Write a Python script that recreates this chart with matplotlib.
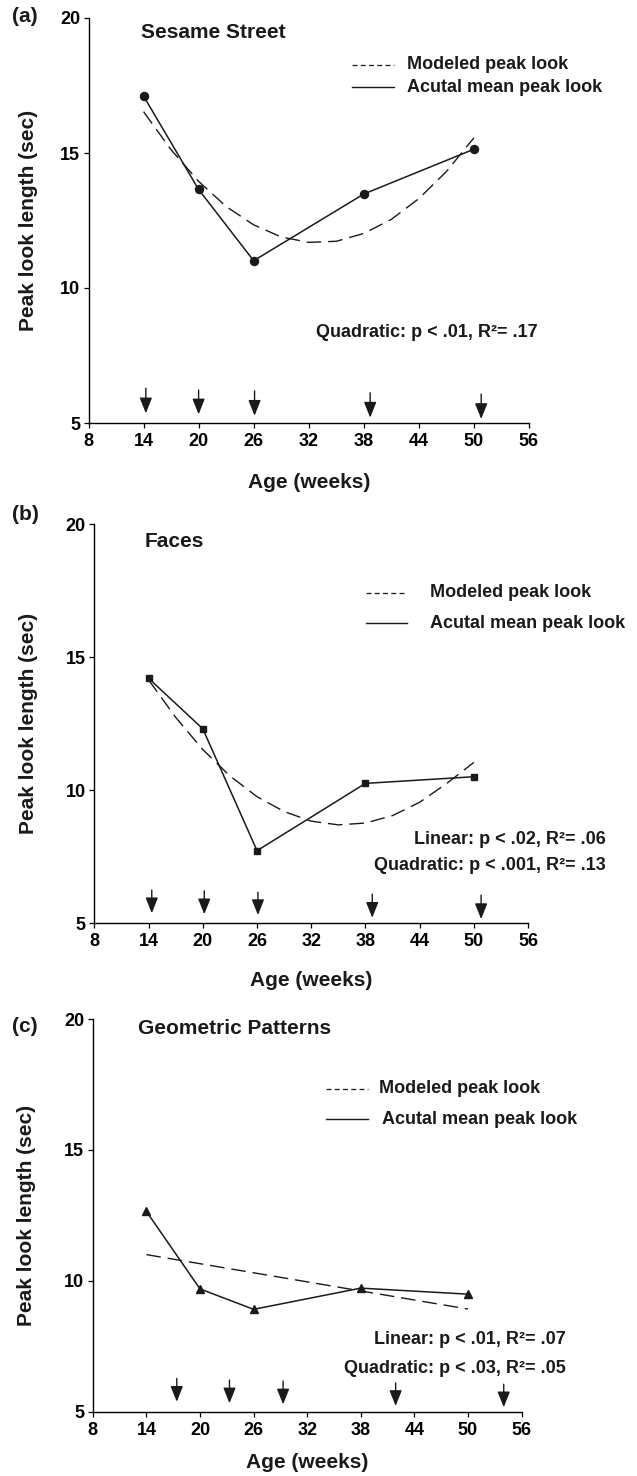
import matplotlib
matplotlib.use("Agg")
import matplotlib.pyplot as plt

plt.rcParams['font.family'] = ['Liberation Sans', 'DejaVu Sans']
plt.rcParams['font.weight'] = 'bold'

# ---------------- data ----------------
weeks = [14, 20, 26, 38, 50]
sesame_actual = [17.11, 13.65, 11.01, 13.48, 15.14]
faces_actual = [14.21, 12.31, 7.73, 10.26, 10.51]
geometric_actual = [12.65, 9.69, 8.91, 9.72, 9.49]

model_weeks = [14, 17, 20, 23, 26, 29, 32, 35, 38, 41, 44, 47, 50]
sesame_model = [16.53, 15.12, 13.95, 13.02, 12.34, 11.89, 11.69, 11.73, 12.02, 12.54, 13.31, 14.31, 15.56]
faces_model = [14.15, 12.74, 11.53, 10.54, 9.76, 9.20, 8.84, 8.70, 8.77, 9.05, 9.55, 10.26, 11.05]
geometric_model_weeks = [14, 50]
geometric_model = [11.00, 8.92]

sesame_arrows = [14.25, 20.0, 26.1, 38.7, 50.8]
faces_arrows = [14.35, 20.16, 26.1, 38.75, 50.8]
geometric_arrows = [17.4, 23.3, 29.3, 41.9, 54.0]

x_ticks = [8, 14, 20, 26, 32, 38, 44, 50, 56]
y_ticks = [5, 10, 15, 20]

titles = ["Sesame Street", "Faces", "Geometric Patterns"]
panel_labels = ["(a)", "(b)", "(c)"]
legend_labels = ["Modeled peak look", "Acutal mean peak look"]
stats = [["Quadratic: p < .01, R²= .17"],
         ["Linear: p < .02, R²= .06", "Quadratic: p < .001, R²= .13"],
         ["Linear: p < .01, R²= .07", "Quadratic: p < .03, R²= .05"]]

W, H = 637, 1476
fig = plt.figure(figsize=(W / 100, H / 100), dpi=100)


def px_axes(left, right, top, bottom):
    return fig.add_axes([left / W, 1 - bottom / H, (right - left) / W, (bottom - top) / H])


def style_axis(ax):
    ax.set_xlim(8, 56)
    ax.set_ylim(5, 20)
    ax.set_xticks(x_ticks)
    ax.set_yticks(y_ticks)
    for s in ['top', 'right']:
        ax.spines[s].set_visible(False)
    for s in ['left', 'bottom']:
        ax.spines[s].set_linewidth(1.0)
    ax.tick_params(direction='out', length=3.6, width=0.9, labelsize=13)
    ax.tick_params(axis='x', pad=3.5)
    ax.tick_params(axis='y', pad=2.5)
    for lab in ax.get_xticklabels() + ax.get_yticklabels():
        lab.set_fontweight('bold')


def arrows(ax, xs, tops, tips):
    for x, t0, t1 in zip(xs, tops, tips):
        ax.annotate('', xy=(x, t1), xytext=(x, t0),
                    arrowprops=dict(arrowstyle='-|>,head_length=0.95,head_width=0.38',
                                    color='#1a1a1a', lw=1.0, shrinkA=0, shrinkB=0,
                                    mutation_scale=10),
                    annotation_clip=False)


def legend(ax, x0, x1, xt_dash, xt_solid, y_dash, y_solid):
    ax.plot([x0, x1], [y_dash, y_dash], color='#1a1a1a', lw=0.9,
            linestyle=(0, (4, 2.6)), clip_on=False)
    ax.plot([x0, x1], [y_solid, y_solid], color='#1a1a1a', lw=1.0, clip_on=False)
    ax.text(xt_dash, y_dash, legend_labels[0], fontsize=13, fontweight='bold',
            va='center', ha='left', color='#1a1a1a')
    ax.text(xt_solid, y_solid, legend_labels[1], fontsize=13, fontweight='bold',
            va='center', ha='left', color='#1a1a1a')


dash = (0, (10.5, 5))
col = '#1a1a1a'

# ---------------- panel (a) ----------------
ax1 = px_axes(88.5, 528.9, 18, 423)
style_axis(ax1)
ax1.plot(model_weeks, sesame_model, color=col, lw=1.0, linestyle=dash)
ax1.plot(weeks, sesame_actual, color=col, lw=1.1, marker='o', markersize=5.8)
arrows(ax1, sesame_arrows, [6.29, 6.22, 6.19, 6.12, 6.07], [5.36, 5.32, 5.27, 5.20, 5.15])
legend(ax1, 36.67, 41.33, 42.67, 42.67, 18.26, 17.44)
ax1.text(13.7, 19.48, titles[0], fontsize=15, fontweight='bold', va='center', ha='left', color=col)
ax1.text(56.9, 8.37, stats[0][0], fontsize=13, fontweight='bold', va='center', ha='right', color=col)

# ---------------- panel (b) ----------------
ax2 = px_axes(94.4, 528.1, 524.3, 923.3)
style_axis(ax2)
ax2.plot(model_weeks, faces_model, color=col, lw=1.0, linestyle=dash)
ax2.plot(weeks, faces_actual, color=col, lw=1.1, marker='s', markersize=4.4)
arrows(ax2, faces_arrows, [6.25, 6.22, 6.17, 6.10, 6.06], [5.38, 5.34, 5.31, 5.21, 5.16])
legend(ax2, 38.08, 42.58, 45.15, 45.15, 17.43, 16.28)
ax2.text(13.54, 19.35, titles[1], fontsize=15, fontweight='bold', va='center', ha='left', color=col)
ax2.text(64.55, 8.16, stats[1][0], fontsize=13, fontweight='bold', va='center', ha='right', color=col)
ax2.text(64.55, 7.19, stats[1][1], fontsize=13, fontweight='bold', va='center', ha='right', color=col)

# ---------------- panel (c) ----------------
ax3 = px_axes(92.8, 521.6, 1019, 1411.7)
style_axis(ax3)
ax3.plot(geometric_model_weeks, geometric_model, color=col, lw=1.0, linestyle=dash)
ax3.plot(weeks, geometric_actual, color=col, lw=1.1, marker='^', markersize=5.6)
arrows(ax3, geometric_arrows, [6.27, 6.21, 6.17, 6.10, 6.05], [5.38, 5.32, 5.28, 5.22, 5.17])
legend(ax3, 34.05, 38.83, 40.06, 40.42, 17.33, 16.17)
ax3.text(13.1, 19.62, titles[2], fontsize=15, fontweight='bold', va='center', ha='left', color=col)
ax3.text(60.9, 7.76, stats[2][0], fontsize=13, fontweight='bold', va='center', ha='right', color=col)
ax3.text(60.9, 6.65, stats[2][1], fontsize=13, fontweight='bold', va='center', ha='right', color=col)

# ---------------- labels ----------------
for lab, y in zip(panel_labels, [17, 515, 1026.7]):
    fig.text(12 / W, 1 - y / H, lab, fontsize=15, fontweight='bold', va='center', ha='left', color=col)

for x, y in zip([309, 311, 307], [483, 980, 1463]):
    fig.text(x / W, 1 - y / H, "Age (weeks)", fontsize=15, fontweight='bold', va='center', ha='center', color=col)

for y, x in zip([220.5, 723.8, 1215.4], [28.5, 28.5, 26.5]):
    fig.text(x / W, 1 - y / H, "Peak look length (sec)", fontsize=15, fontweight='bold',
             va='center', ha='center', rotation=90, color=col)

fig.savefig("out.png", dpi=100)
